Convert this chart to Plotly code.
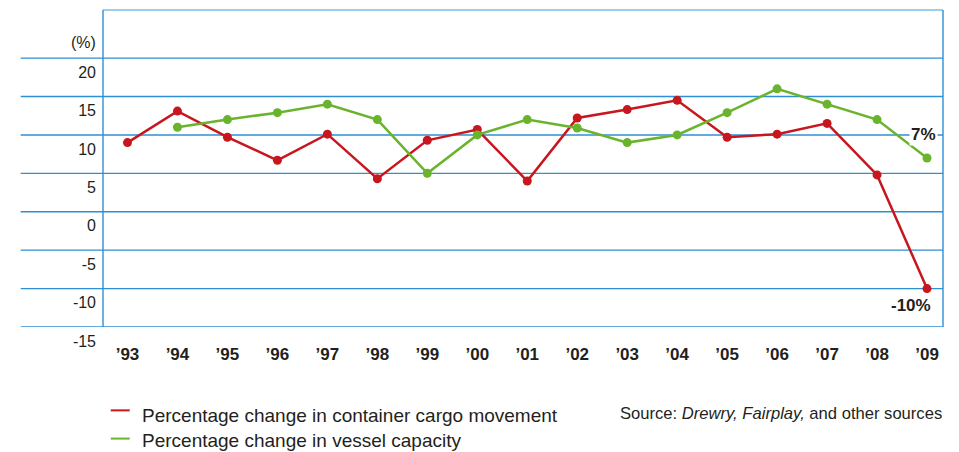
import plotly.graph_objects as go

years = ["’93", "’94", "’95", "’96", "’97", "’98", "’99", "’00", "’01",
         "’02", "’03", "’04", "’05", "’06", "’07", "’08", "’09"]

# percentage change in container cargo movement
cargo = [9.0, 13.1, 9.7, 6.7, 10.1, 4.3, 9.3, 10.7, 4.0,
         12.2, 13.3, 14.5, 9.7, 10.1, 11.5, 4.8, -10.0]

# percentage change in vessel capacity ('93 not given)
capacity = [None, 11.0, 12.0, 12.9, 14.0, 12.0, 5.0, 10.0, 12.0,
            10.9, 9.0, 10.0, 12.9, 16.0, 14.0, 12.0, 7.0]

y_ticks = [-15, -10, -5, 0, 5, 10, 15, 20]
y_ticktext = ["-15", "-10", "-5", "0", "5", "10", "15", "20"]

RED = "#c8161e"
GREEN = "#6ab42d"
GRID = "#2e8fd5"
TXT = "#231f20"
FONT = "Liberation Sans, Arial, sans-serif"

xs = list(range(len(years)))

fig = go.Figure()
fig.add_trace(go.Scatter(
    x=xs, y=cargo, mode="lines+markers",
    line=dict(color=RED, width=2.5),
    marker=dict(color=RED, size=9),
    name="Percentage change in container cargo movement",
))
fig.add_trace(go.Scatter(
    x=xs, y=capacity, mode="lines+markers",
    line=dict(color=GREEN, width=2.5),
    marker=dict(color=GREEN, size=9),
    name="Percentage change in vessel capacity",
))

# horizontal rules, running out past the left edge under the tick labels
shapes = []
for v in y_ticks:
    shapes.append(dict(type="line", xref="paper", yref="y", x0=-0.098, x1=1,
                       y0=v, y1=v, line=dict(color=GRID, width=1.4), layer="below"))
shapes.append(dict(type="line", xref="paper", yref="paper", x0=0, x1=1, y0=1, y1=1,
                   line=dict(color="#7fbde8", width=1.6), layer="below"))
for xv in (0, 1):
    shapes.append(dict(type="line", xref="paper", yref="paper", x0=xv, x1=xv, y0=0, y1=1,
                       line=dict(color=GRID, width=1.4), layer="below"))

# legend keys
shapes.append(dict(type="line", xref="paper", yref="paper", x0=0.0092, x1=0.0318,
                   y0=-0.263, y1=-0.263, line=dict(color=RED, width=2)))
shapes.append(dict(type="line", xref="paper", yref="paper", x0=0.0092, x1=0.0318,
                   y0=-0.352, y1=-0.352, line=dict(color=GREEN, width=2)))

annotations = [
    dict(text="(%)", xref="paper", yref="paper", x=-0.006, y=0.896,
         xanchor="right", yanchor="middle", showarrow=False,
         font=dict(size=16, color=TXT, family=FONT)),
    dict(text="<b>7%</b>", x=15.92, y=10, xref="x", yref="y",
         xanchor="center", yanchor="middle", showarrow=False, bgcolor="white",
         font=dict(size=17, color=TXT, family=FONT)),
    dict(text="<b>-10%</b>", x=15.68, y=-12.2, xref="x", yref="y",
         xanchor="center", yanchor="middle", showarrow=False,
         font=dict(size=17, color=TXT, family=FONT)),
    dict(text="Percentage change in container cargo movement", xref="paper", yref="paper",
         x=0.0437, y=-0.278, xanchor="left", yanchor="middle", showarrow=False,
         font=dict(size=19, color=TXT, family=FONT)),
    dict(text="Percentage change in vessel capacity", xref="paper", yref="paper",
         x=0.0437, y=-0.357, xanchor="left", yanchor="middle", showarrow=False,
         font=dict(size=19, color=TXT, family=FONT)),
    dict(text="Source: <i>Drewry, Fairplay,</i> and other sources", xref="paper", yref="paper",
         x=1.001, y=-0.272, xanchor="right", yanchor="middle", showarrow=False,
         font=dict(size=16.6, color=TXT, family=FONT)),
]

# page body adds an 8px offset, so the figure is sized to the remaining space
fig.update_layout(
    width=951, height=444,
    margin=dict(l=95, r=16, t=2, b=125),
    paper_bgcolor="white", plot_bgcolor="white",
    showlegend=False,
    shapes=shapes, annotations=annotations,
    font=dict(family=FONT, color=TXT),
)
fig.update_xaxes(
    range=[-0.49, 16.32], tickvals=xs, ticktext=[f"<b>{y}</b>" for y in years],
    showgrid=False, zeroline=False, showline=False, ticks="",
    tickfont=dict(size=17, color=TXT), ticklabelstandoff=15, automargin=False,
)
fig.update_yaxes(
    range=[-15, 26.26], tickvals=y_ticks, ticktext=y_ticktext,
    showgrid=False, zeroline=False, showline=False, ticks="",
    tickfont=dict(size=16, color=TXT),
    ticklabelshift=14, ticklabelstandoff=6, automargin=False,
)

fig.write_html("out.html")
